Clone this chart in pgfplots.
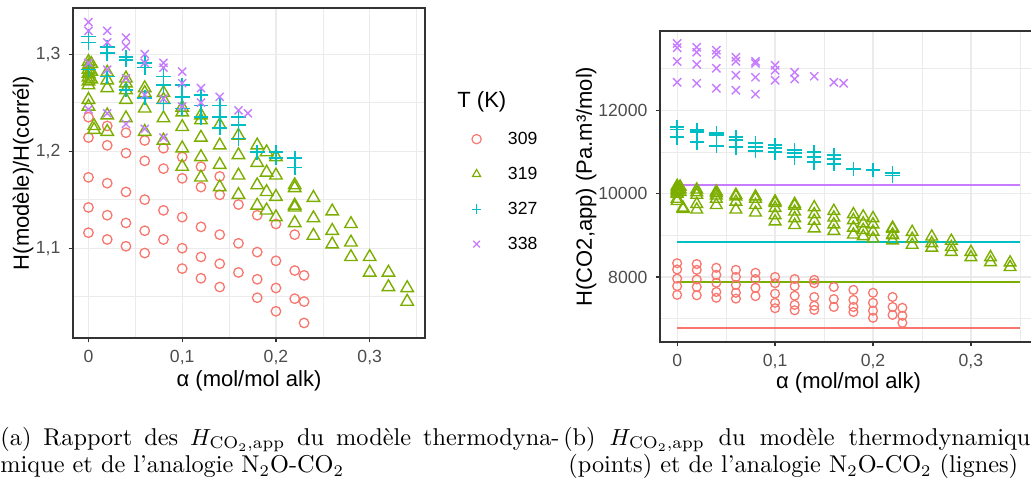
\documentclass[border=0pt]{standalone}
\usepackage{fontspec}
\usepackage{pgfplots}
\pgfplotsset{compat=1.18}
\newfontfamily\arial{Liberation Sans}
\definecolor{c309}{HTML}{F8766D}
\definecolor{c319}{HTML}{7CAE00}
\definecolor{c327}{HTML}{00BFC4}
\definecolor{c338}{HTML}{C77CFF}
\definecolor{grey92}{gray}{0.92}
\definecolor{grey20}{gray}{0.20}
\definecolor{grey30}{gray}{0.30}
\newcommand{\ticksz}{\arial\fontsize{7.57pt}{9pt}\selectfont}
\newcommand{\titlesz}{\arial\fontsize{9.46pt}{11pt}\selectfont}
\newcommand{\capsz}{\fontsize{10.45pt}{12.5pt}\selectfont}

\pgfplotsset{
  gg/.style={
    scale only axis,
    axis line style={grey20, line width=0.55pt},
    grid=both,
    major grid style={grey92, line width=0.5pt},
    minor grid style={grey92, line width=0.25pt},
    tick style={grey20, line width=0.5pt},
    major tick length=1.9pt,
    minor tick length=0pt,
    tick align=outside,
    xtick pos=bottom, ytick pos=left,
    ticklabel style={font=\ticksz, text=grey30},
    label style={font=\titlesz},
    xtick={0,0.1,0.2,0.3},
    minor xtick={0.05,0.15,0.25,0.35},
    xticklabel style={/pgf/number format/.cd, fixed, use comma},
    xlabel={α (mol/mol alk)},
    /pgf/number format/assume math mode=true,
  },
  p309/.style={only marks, mark=o, color=c309, mark size=2.05pt, line width=0.55pt},
  p319/.style={only marks, mark=triangle, color=c319, mark size=3.1pt, line width=0.6pt},
  p327/.style={only marks, mark=+, color=c327, mark size=3.2pt, line width=0.7pt},
  p338/.style={only marks, mark=x, color=c338, mark size=2.45pt, line width=0.6pt},
}

\begin{document}
\begin{tikzpicture}
\useasboundingbox (0,0) rectangle (443.33pt,210.27pt);

% (a) ratio model / analogy
\begin{axis}[gg, at={(31.39pt,64.93pt)}, anchor=south west,
  width=151.36pt, height=141.9pt,
  xmin=-0.0165, xmax=0.359, ymin=1.0075, ymax=1.3475,
  ytick={1.1,1.2,1.3}, minor ytick={1.05,1.15,1.25},
  yticklabel style={/pgf/number format/.cd, fixed, fixed zerofill, precision=1, use comma},
  ylabel={H(modèle)/H(corrél)},
  ylabel style={at={(axis description cs:-0.142,0.5)}, anchor=center},
  xlabel style={at={(axis description cs:0.5,-0.13)}, anchor=center},
  legend style={draw=none, fill=none, at={(1.132,0.657)}, anchor=north west,
    font=\ticksz, inner sep=0pt, row sep=0pt, column sep=11.5pt,
    nodes={inner sep=0pt, text height=10pt, text depth=5.05pt}, cells={anchor=west}},
  legend image code/.code={\draw[mark repeat=2,mark phase=2,#1,mark size=2pt,line width=0.5pt] plot coordinates {(0pt,0pt) (6pt,0pt) (12pt,0pt)};},
]
\addplot[p309] coordinates {
 (0,1.235)(0,1.214)(0,1.173)(0,1.142)(0,1.116)
 (0.02,1.226)(0.02,1.206)(0.02,1.167)(0.02,1.134)(0.02,1.109)
 (0.04,1.219)(0.04,1.198)(0.04,1.158)(0.04,1.126)(0.04,1.102)
 (0.06,1.211)(0.06,1.190)(0.06,1.150)(0.06,1.118)(0.06,1.095)
 (0.08,1.203)(0.08,1.182)(0.08,1.139)(0.08,1.109)
 (0.10,1.194)(0.10,1.172)(0.10,1.132)(0.10,1.100)(0.10,1.079)
 (0.12,1.184)(0.12,1.163)(0.12,1.122)(0.12,1.091)(0.12,1.069)
 (0.14,1.174)(0.14,1.155)(0.14,1.114)(0.14,1.084)(0.14,1.060)
 (0.16,1.145)(0.16,1.105)(0.16,1.075)
 (0.18,1.134)(0.18,1.096)(0.18,1.068)(0.18,1.049)
 (0.20,1.125)(0.20,1.087)(0.20,1.059)(0.20,1.035)
 (0.22,1.114)(0.22,1.077)(0.22,1.048)
 (0.23,1.072)(0.23,1.045)(0.23,1.023)
};
\addlegendentry{309}
\addplot[p319] coordinates {
 (0,1.292)(0,1.288)(0,1.284)(0,1.280)(0,1.276)(0,1.272)(0,1.268)
 (0.003,1.290)(0.003,1.282)(0.003,1.274)(0,1.253)(0,1.246)
 (0.006,1.226)(0.006,1.222)
 (0.02,1.281)(0.02,1.273)(0.02,1.265)(0.02,1.237)(0.02,1.220)
 (0.04,1.275)(0.04,1.270)(0.04,1.263)(0.04,1.253)(0.04,1.234)
 (0.06,1.265)(0.06,1.260)(0.06,1.244)(0.06,1.220)
 (0.08,1.260)(0.08,1.253)(0.08,1.234)(0.08,1.211)
 (0.10,1.245)(0.10,1.240)(0.10,1.225)(0.10,1.203)(0.10,1.184)
 (0.12,1.237)(0.12,1.232)(0.12,1.214)(0.12,1.194)(0.12,1.173)
 (0.14,1.227)(0.14,1.206)(0.14,1.186)(0.14,1.163)
 (0.16,1.216)(0.16,1.196)(0.16,1.175)(0.16,1.155)
 (0.18,1.206)(0.18,1.188)(0.18,1.165)(0.18,1.144)
 (0.19,1.199)(0.19,1.178)(0.19,1.158)(0.19,1.139)
 (0.20,1.194)(0.20,1.175)(0.20,1.153)(0.20,1.132)
 (0.22,1.165)(0.22,1.162)(0.22,1.144)(0.22,1.142)(0.22,1.126)
 (0.24,1.152)(0.24,1.131)(0.24,1.113)
 (0.26,1.138)(0.26,1.118)(0.26,1.104)
 (0.28,1.125)(0.28,1.106)(0.28,1.091)
 (0.30,1.091)(0.30,1.075)
 (0.32,1.075)(0.32,1.060)
 (0.34,1.059)(0.34,1.045)
};
\addlegendentry{319}
\addplot[p327] coordinates {
 (0,1.318)(0,1.312)(0,1.284)
 (0.02,1.307)(0.02,1.301)(0.02,1.277)
 (0.04,1.297)(0.04,1.294)(0.04,1.263)
 (0.06,1.291)(0.06,1.286)(0.06,1.255)
 (0.08,1.277)(0.08,1.268)(0.08,1.249)
 (0.10,1.268)(0.10,1.256)(0.10,1.244)
 (0.12,1.258)(0.12,1.247)(0.12,1.235)
 (0.14,1.247)(0.14,1.235)(0.14,1.224)
 (0.16,1.235)(0.16,1.227)(0.16,1.213)
 (0.18,1.199)
 (0.20,1.199)(0.20,1.193)
 (0.22,1.193)(0.22,1.183)
};
\addlegendentry{327}
\addplot[p338] coordinates {
 (0,1.333)(0,1.324)(0,1.291)(0,1.243)
 (0.02,1.324)(0.02,1.312)(0.02,1.284)(0.02,1.239)
 (0.04,1.317)(0.04,1.308)(0.04,1.275)(0.04,1.228)
 (0.06,1.300)(0.06,1.291)(0.06,1.258)(0.06,1.223)
 (0.08,1.291)(0.08,1.286)(0.08,1.254)(0.08,1.214)
 (0.10,1.282)(0.10,1.270)(0.10,1.246)
 (0.12,1.265)(0.12,1.250)
 (0.14,1.256)
 (0.16,1.242)
 (0.17,1.239)
};
\addlegendentry{338}
\end{axis}
\node[anchor=west, inner sep=0pt, font=\titlesz] at (196.5pt,166.4pt) {T (K)};

% (b) H_CO2,app: model (points) and N2O-CO2 analogy (lines)
\begin{axis}[gg, at={(283.8pt,63.21pt)}, anchor=south west,
  width=162.11pt, height=133.73pt,
  xmin=-0.0175, xmax=0.3675, ymin=6440, ymax=13900,
  ytick={8000,10000,12000}, minor ytick={7000,9000,11000,13000},
  scaled y ticks=false,
  yticklabel style={/pgf/number format/.cd, fixed, 1000 sep={}},
  ylabel={H(CO2,app) (Pa.m³/mol)},
  ylabel style={at={(axis description cs:-0.196,0.5)}, anchor=center},
  xlabel style={at={(axis description cs:0.5,-0.132)}, anchor=center},
]
\addplot[p309, mark size=1.9pt] coordinates {
 (0,8330)(0,8180)(0,7960)(0,7780)(0,7570)
 (0.02,8310)(0.02,8170)(0.02,7940)(0.02,7760)(0.02,7560)
 (0.04,8220)(0.04,8050)(0.04,7860)(0.04,7640)(0.04,7500)
 (0.06,8170)(0.06,8000)(0.06,7810)(0.06,7620)(0.06,7480)
 (0.08,8100)(0.08,7950)(0.08,7740)(0.08,7540)
 (0.10,8000)(0.10,7850)(0.10,7600)(0.10,7380)(0.10,7250)
 (0.12,7950)(0.12,7780)(0.12,7550)(0.12,7330)(0.12,7200)
 (0.14,7930)(0.14,7850)(0.14,7520)(0.14,7310)(0.14,7210)
 (0.16,7760)(0.16,7470)(0.16,7280)
 (0.18,7690)(0.18,7450)(0.18,7280)(0.18,7160)
 (0.20,7620)(0.20,7380)(0.20,7190)(0.20,7020)
 (0.22,7520)(0.22,7280)(0.22,7090)
 (0.23,7260)(0.23,7070)(0.23,6900)
};
\addplot[p319, mark size=2.9pt] coordinates {
 (0,10181)(0,10149)(0,10118)(0,10086)(0,10055)(0,10023)(0,9992)
 (0.003,10165)(0.003,10102)(0.003,10039)(0,9874)(0,9818)
 (0.006,9661)(0.006,9629)
 (0.02,10094)(0.02,10031)(0.02,9968)(0.02,9748)(0.02,9614)
 (0.04,10047)(0.04,10008)(0.04,9952)(0.04,9874)(0.04,9724)
 (0.06,9968)(0.06,9929)(0.06,9803)(0.06,9614)
 (0.08,9929)(0.08,9874)(0.08,9724)(0.08,9543)
 (0.10,9811)(0.10,9771)(0.10,9653)(0.10,9480)(0.10,9330)
 (0.12,9748)(0.12,9708)(0.12,9566)(0.12,9409)(0.12,9243)
 (0.14,9669)(0.14,9503)(0.14,9346)(0.14,9164)
 (0.16,9582)(0.16,9424)(0.16,9259)(0.16,9101)
 (0.18,9503)(0.18,9361)(0.18,9180)(0.18,9015)
 (0.19,9448)(0.19,9283)(0.19,9125)(0.19,8975)
 (0.20,9409)(0.20,9259)(0.20,9086)(0.20,8920)
 (0.22,9180)(0.22,9157)(0.22,9015)(0.22,8999)(0.22,8873)
 (0.24,9078)(0.24,8912)(0.24,8770)
 (0.26,8967)(0.26,8810)(0.26,8700)
 (0.28,8865)(0.28,8715)(0.28,8597)
 (0.30,8597)(0.30,8471)
 (0.32,8471)(0.32,8353)
 (0.34,8345)(0.34,8235)
};
\addplot[p327, mark size=3.1pt] coordinates {
 (0,11590)(0,11540)(0,11350)
 (0.02,11520)(0.02,11470)(0.02,11230)
 (0.04,11450)(0.04,11400)(0.04,11140)
 (0.06,11350)(0.06,11280)(0.06,11110)
 (0.08,11210)(0.08,11110)(0.08,11020)
 (0.10,11160)(0.10,11090)(0.10,10990)
 (0.12,11040)(0.12,10970)(0.12,10870)
 (0.14,10990)(0.14,10870)(0.14,10750)
 (0.16,10920)(0.16,10830)(0.16,10710)
 (0.18,10590)
 (0.20,10560)
 (0.22,10490)(0.22,10430)
};
\addplot[p338, mark size=2.5pt] coordinates {
 (0,13600)(0,13500)(0,13170)(0,12670)
 (0.02,13510)(0.02,13390)(0.02,13100)(0.02,12646)
 (0.04,13437)(0.04,13341)(0.04,13005)(0.04,12527)
 (0.06,13269)(0.06,13173)(0.06,12838)(0.06,12479)
 (0.08,13173)(0.08,13125)(0.08,12790)(0.08,12383)
 (0.10,13077)(0.10,12958)(0.10,12718)
 (0.12,12910)(0.12,12750)
 (0.14,12814)
 (0.16,12670)
 (0.17,12646)
};
\addplot[c338, line width=0.6pt] coordinates {(0,10203)(0.35,10203)};
\addplot[c327, line width=0.6pt] coordinates {(0,8838)(0.35,8838)};
\addplot[c319, line width=0.6pt] coordinates {(0,7880)(0.35,7880)};
\addplot[c309, line width=0.6pt] coordinates {(0,6779)(0.35,6779)};
\end{axis}

% subcaptions
\node[anchor=base west, inner sep=0pt, font=\capsz] at (0pt,18.9pt)
  {\makebox[240.4pt][s]{(a) Rapport des $H_{\mathrm{CO}_2,\mathrm{app}}$ du modèle thermodyna-}};
\node[anchor=base west, inner sep=0pt, font=\capsz] at (0pt,6.9pt)
  {mique et de l'analogie N$_2$O-CO$_2$};
\node[anchor=base west, inner sep=0pt, font=\capsz] at (242pt,18.9pt)
  {\makebox[205.5pt][s]{(b) $H_{\mathrm{CO}_2,\mathrm{app}}$ du modèle thermodynamique}};
\node[anchor=base west, inner sep=0pt, font=\capsz] at (244.2pt,6.9pt)
  {(points) et de l'analogie N$_2$O-CO$_2$ (lignes)};
\end{tikzpicture}
\end{document}
